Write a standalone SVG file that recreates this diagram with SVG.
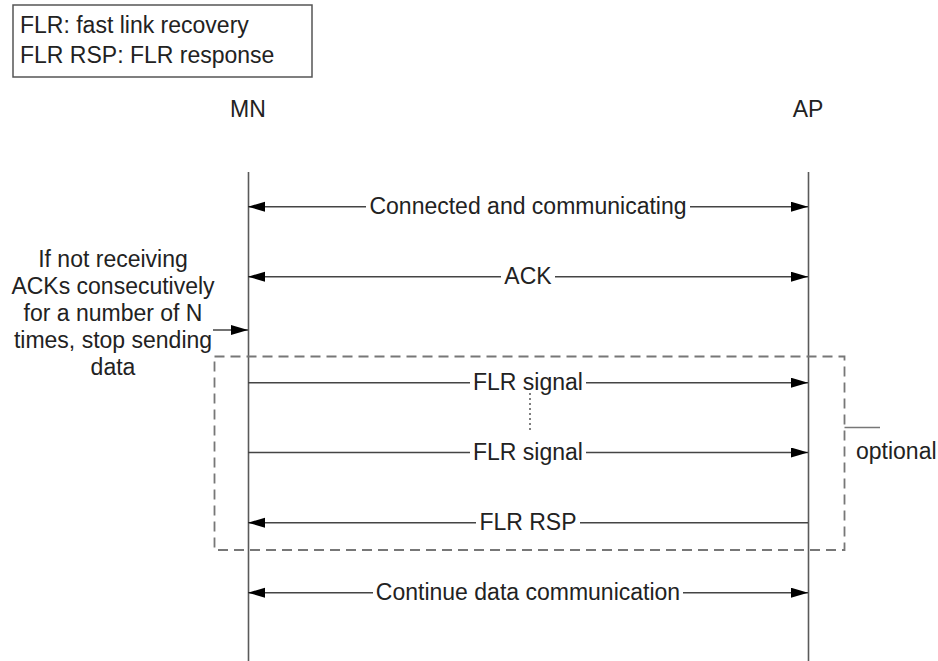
<svg xmlns="http://www.w3.org/2000/svg" width="938" height="661" viewBox="0 0 938 661">
  <defs>
    <style>
      text { font-family: "Liberation Sans", Arial, sans-serif; font-size: 23px; fill: #222; }
      .mid { text-anchor: middle; }
      .life { stroke: #5a5a5a; stroke-width: 1.6; fill: none; }
      .msg { stroke: #444; stroke-width: 1.5; fill: none; }
      .dash { stroke: #777; stroke-width: 1.8; fill: none; stroke-dasharray: 10 6; }
      .box { stroke: #555; stroke-width: 1.5; fill: #fff; }
    </style>
    <marker id="ah" markerUnits="userSpaceOnUse" markerWidth="18" markerHeight="11" refX="17" refY="5" orient="auto-start-reverse">
      <path d="M0,0 L17,5 L0,10 z" fill="#000"/>
    </marker>
  </defs>

  <g id="legend">
    <rect class="box" x="13" y="5" width="299" height="72"/>
    <text x="20" y="33">FLR: fast link recovery</text>
    <text x="20" y="63">FLR RSP: FLR response</text>
  </g>

  <g id="MN">
    <text class="mid" x="248" y="117">MN</text>
    <line class="life" x1="248.5" y1="172" x2="248.5" y2="661"/>
  </g>

  <g id="AP">
    <text class="mid" x="808" y="117">AP</text>
    <line class="life" x1="808.5" y1="172" x2="808.5" y2="661"/>
  </g>

  <g id="note">
    <text class="mid" x="113" y="267">If not receiving</text>
    <text class="mid" x="113" y="294">ACKs consecutively</text>
    <text class="mid" x="113" y="321">for a number of N</text>
    <text class="mid" x="113" y="348">times, stop sending</text>
    <text class="mid" x="113" y="375">data</text>
  </g>

  <g id="optional-frame">
    <rect class="dash" x="214.5" y="356.5" width="630" height="193.5"/>
    <line class="msg" x1="844.5" y1="427.5" x2="880" y2="427.5" style="stroke:#777"/>
    <text x="856" y="459">optional</text>
  </g>

  <g id="connectors">
    <path class="msg" d="M248,206.7 H366 M690,206.7 H808" marker-start="url(#ah)" marker-end="url(#ah)"/>
    <text class="mid" x="528" y="213.7">Connected and communicating</text>

    <path class="msg" d="M248,276.7 H501 M555,276.7 H808" marker-start="url(#ah)" marker-end="url(#ah)"/>
    <text class="mid" x="528" y="283.7">ACK</text>

    <line class="msg" x1="213" y1="330" x2="248" y2="330" marker-end="url(#ah)"/>

    <path class="msg" d="M248,382.7 H470 M586,382.7 H808" marker-end="url(#ah)"/>
    <text class="mid" x="528" y="389.7">FLR signal</text>

    <line x1="530" y1="393" x2="530" y2="432" stroke="#555" stroke-width="1.5" stroke-dasharray="2 3"/>

    <path class="msg" d="M248,452.5 H470 M586,452.5 H808" marker-end="url(#ah)"/>
    <text class="mid" x="528" y="459.5">FLR signal</text>

    <path class="msg" d="M808,522.7 H580 M476,522.7 H248" marker-end="url(#ah)"/>
    <text class="mid" x="528" y="529.7">FLR RSP</text>

    <path class="msg" d="M248,592.7 H373 M683,592.7 H808" marker-start="url(#ah)" marker-end="url(#ah)"/>
    <text class="mid" x="528" y="599.7">Continue data communication</text>
  </g>
</svg>
